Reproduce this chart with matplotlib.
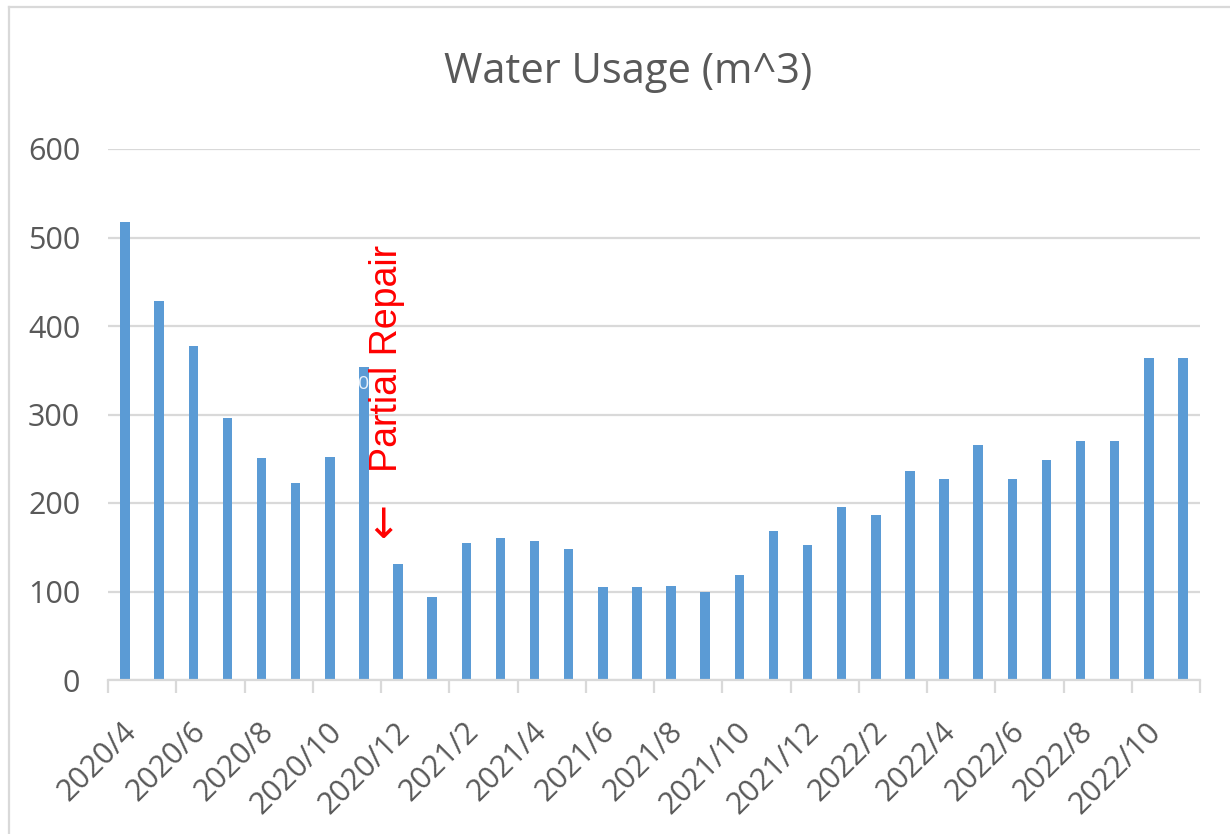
import numpy as np
import matplotlib.pyplot as plt
from matplotlib.lines import Line2D

# monthly water usage, 2020/4 .. 2022/11
months = ['2020/4', '2020/5', '2020/6', '2020/7', '2020/8', '2020/9', '2020/10', '2020/11',
          '2020/12', '2021/1', '2021/2', '2021/3', '2021/4', '2021/5', '2021/6', '2021/7',
          '2021/8', '2021/9', '2021/10', '2021/11', '2021/12', '2022/1', '2022/2', '2022/3',
          '2022/4', '2022/5', '2022/6', '2022/7', '2022/8', '2022/9', '2022/10', '2022/11']
usage = [518, 428, 377, 296, 251, 223, 252, 354,
         131, 94, 155, 161, 157, 148, 105, 105,
         106, 99, 119, 168, 153, 196, 186, 236,
         227, 265, 227, 249, 270, 270, 364, 364]

W, H = 1230, 834
gray = '#595959'
grid_c = '#d9d9d9'

plt.rcParams['font.family'] = ['Open Sans', 'DejaVu Sans']

fig = plt.figure(figsize=(W / 100, H / 100), dpi=100)
ax = fig.add_axes([108 / W, 1 - 680 / H, (1200 - 108) / W, 531 / H])

x = np.arange(len(months))
ax.bar(x, usage, width=0.28, color='#5b9bd5', zorder=2)

ax.set_xlim(-0.5, len(months) - 0.5)
ax.set_ylim(0, 600)
ax.set_yticks(np.arange(0, 601, 100))
ax.yaxis.grid(True, color=grid_c, linewidth=1.6, zorder=0)
ax.tick_params(axis='y', length=0, pad=20, labelsize=22, labelcolor=gray)

# labels every 2nd month, tick marks on category boundaries
ax.set_xticks(x[::2] + 0.22)
ax.set_xticklabels(months[::2], rotation=45, ha='right', va='center',
                   rotation_mode='anchor')
ax.tick_params(axis='x', length=0, pad=34, labelsize=22, labelcolor=gray)
ax.set_xticks(np.arange(-0.5, len(months), 2), minor=True)
ax.tick_params(axis='x', which='minor', length=9, width=1.6, color=grid_c)

for s in ['top', 'right', 'left']:
    ax.spines[s].set_visible(False)
ax.spines['bottom'].set_color(grid_c)
ax.spines['bottom'].set_linewidth(1.6)

ax.text(7.0, 335, '0', color='#eaf2fb', fontsize=14, ha='center', va='center', zorder=3)
ax.text(7.68, 235, 'Partial Repair', rotation=90, color='#ff0000', fontsize=27,
        ha='center', va='bottom', fontfamily='Liberation Sans', zorder=4)
ax.text(7.58, 162, '\u2190', rotation=90, color='#ff0000', fontsize=30,
        ha='center', va='bottom', fontfamily='DejaVu Sans', zorder=4)

fig.text(628 / W, 1 - 72 / H, 'Water Usage (m^3)', ha='center', va='center',
         fontsize=30, color=gray)

# chart frame
fig.add_artist(Line2D([9 / W, 1], [1 - 7 / H, 1 - 7 / H], color=grid_c, linewidth=1.6))
fig.add_artist(Line2D([9 / W, 9 / W], [0, 1 - 7 / H], color=grid_c, linewidth=1.6))

fig.savefig('out.png', dpi=100)
